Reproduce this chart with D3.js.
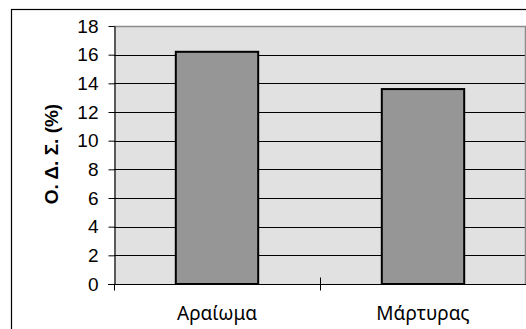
<!DOCTYPE html>
<html>
<head>
<meta charset="utf-8">
<script src="https://cdn.jsdelivr.net/npm/d3@7"></script>
<style>
  html, body { margin: 0; padding: 0; background: #fff; }
  svg { display: block; }
</style>
</head>
<body>
<svg id="chart" width="526" height="329"></svg>
<script>
// Treatment groups and their O.D.S. percentages
const categories = ["Αραίωμα", "Μάρτυρας"];
const values = [16.2, 13.6];
const yTicks = [0, 2, 4, 6, 8, 10, 12, 14, 16, 18];
const yTitle = "Ο. Δ. Σ. (%)";

const svg = d3.select("#chart");
const W = 526, H = 329;
const plot = { left: 114, top: 26, right: 526, bottom: 284 };
const font = "Arial, 'Liberation Sans', sans-serif";
const catFont = "'Noto Sans', 'Open Sans', sans-serif";

// outer chart frame
svg.append("rect")
  .attr("x", 11.5).attr("y", 9.5)
  .attr("width", W + 10).attr("height", H + 10)
  .attr("fill", "#fff").attr("stroke", "#000").attr("stroke-width", 1.2);

const x = d3.scaleBand().domain(categories).range([plot.left, plot.right]).paddingInner(0.6).paddingOuter(0.3);
const xb = d3.scaleBand().domain(categories).range([plot.left, plot.right]);
const y = d3.scaleLinear().domain([0, 18]).range([plot.bottom, plot.top]);

// plot area background
svg.append("rect")
  .attr("x", plot.left).attr("y", plot.top)
  .attr("width", plot.right - plot.left).attr("height", plot.bottom - plot.top)
  .attr("fill", "#e1e1e1");

// horizontal gridlines
svg.append("g")
  .selectAll("line")
  .data(yTicks.filter(t => t > 0 && t < 18))
  .join("line")
  .attr("x1", plot.left).attr("x2", plot.right)
  .attr("y1", d => Math.round(y(d)) + 0.5).attr("y2", d => Math.round(y(d)) + 0.5)
  .attr("stroke", "#000").attr("stroke-width", 1);

// grey top and right borders of the plot area
svg.append("path")
  .attr("d", `M${plot.left},${plot.top + 0.5}H${plot.right - 0.5}V${plot.bottom}`)
  .attr("fill", "none").attr("stroke", "#8c8c8c").attr("stroke-width", 1.5);

// bars
svg.append("g")
  .selectAll("rect")
  .data(values)
  .join("rect")
  .attr("x", (d, i) => x(categories[i]))
  .attr("width", x.bandwidth())
  .attr("y", d => y(d))
  .attr("height", d => y(0) - y(d))
  .attr("fill", "#969696")
  .attr("stroke", "#000")
  .attr("stroke-width", 2);

// y axis
const yAxis = d3.axisLeft(y).tickValues(yTicks).tickSize(6).tickPadding(10).tickSizeOuter(0);
const gy = svg.append("g").attr("transform", `translate(${plot.left + 0.5},0)`).call(yAxis);
gy.select(".domain").attr("stroke", "#000").attr("stroke-width", 1.2);
gy.selectAll(".tick line").attr("stroke", "#000");
gy.selectAll(".tick text")
  .attr("font-family", font).attr("font-size", 19).attr("fill", "#000");

// x axis with category divider ticks
const gx = svg.append("g").attr("transform", `translate(0,${plot.bottom + 0.5})`);
gx.append("line")
  .attr("x1", plot.left - 6).attr("x2", plot.right)
  .attr("stroke", "#000").attr("stroke-width", 1.2);
gx.selectAll("line.div")
  .data(categories)
  .join("line").attr("class", "div")
  .attr("x1", d => Math.round(xb(d)) + 0.5).attr("x2", d => Math.round(xb(d)) + 0.5)
  .attr("y1", d => xb(d) === plot.left ? 0 : -7).attr("y2", 6)
  .attr("stroke", "#000").attr("stroke-width", 1);
gx.selectAll("text")
  .data(categories)
  .join("text")
  .attr("x", d => xb(d) + xb.bandwidth() / 2)
  .attr("y", 35.5)
  .attr("text-anchor", "middle")
  .attr("font-family", catFont).attr("font-size", 19).attr("fill", "#000")
  .text(d => d);

// y axis title
svg.append("text")
  .attr("transform", `translate(58,${(plot.top + plot.bottom) / 2 - 1}) rotate(-90)`)
  .attr("text-anchor", "middle")
  .attr("font-family", font).attr("font-size", 19).attr("font-weight", "bold")
  .attr("fill", "#000")
  .text(yTitle);
</script>
</body>
</html>
